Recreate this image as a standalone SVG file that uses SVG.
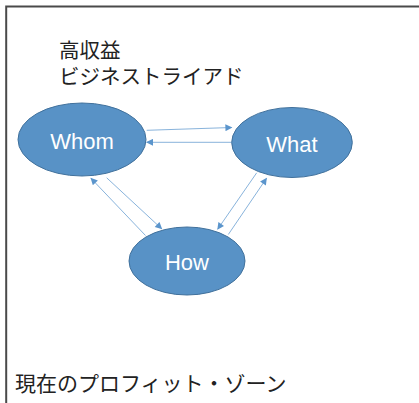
<svg xmlns="http://www.w3.org/2000/svg" width="419" height="403" viewBox="0 0 419 403">
<style>
.node ellipse{fill:#5892c6;stroke:#41719c;stroke-width:1}
.node text{fill:#ffffff;font-family:"Liberation Sans",Arial,sans-serif;font-size:22px;text-anchor:middle}
.lbl{fill:#222222;font-family:"Noto Sans CJK JP","Noto Sans CJK SC",sans-serif;font-size:20.5px}
.conn line{stroke:#6a9fd2;stroke-width:0.8;fill:none;marker-end:url(#ah)}
</style>
<defs>
<marker id="ah" viewBox="0 0 10 10" refX="9" refY="5" markerWidth="9" markerHeight="7" markerUnits="userSpaceOnUse" orient="auto">
<path d="M0,0 L10,5 L0,10 z" fill="#5b95cc"/>
</marker>
</defs>
<rect width="419" height="403" fill="#ffffff"/>
<g id="frame" stroke="#4a4a4a" stroke-width="2" fill="none">
<path d="M6.2,403 V6.5 H419"/>
</g>
<g id="title">
<text class="lbl" x="59" y="57.5">高収益</text>
<text class="lbl" x="59" y="83.5">ビジネストライアド</text>
</g>
<g id="zone">
<text class="lbl" x="15" y="391" style="font-size:21px">現在のプロフィット・ゾーン</text>
</g>
<g class="conn" id="connectors">
<line x1="146.7" y1="130.3" x2="231.7" y2="127.5"/>
<line x1="231.7" y1="142.3" x2="146.7" y2="142.3"/>
<line x1="145.5" y1="235.5" x2="91" y2="178.3"/>
<line x1="106.7" y1="177.8" x2="161.7" y2="228.8"/>
<line x1="256.7" y1="172.8" x2="217.7" y2="229.2"/>
<line x1="228.3" y1="234.5" x2="266.5" y2="178.3"/>
</g>
<g class="node" id="whom">
<ellipse cx="82" cy="139.5" rx="64" ry="36.5"/>
<text x="82" y="148.5">Whom</text>
</g>
<g class="node" id="what">
<ellipse cx="292" cy="142.5" rx="60.3" ry="35"/>
<text x="292" y="151.5">What</text>
</g>
<g class="node" id="how">
<ellipse cx="187" cy="261" rx="58" ry="34"/>
<text x="187" y="270">How</text>
</g>
</svg>
